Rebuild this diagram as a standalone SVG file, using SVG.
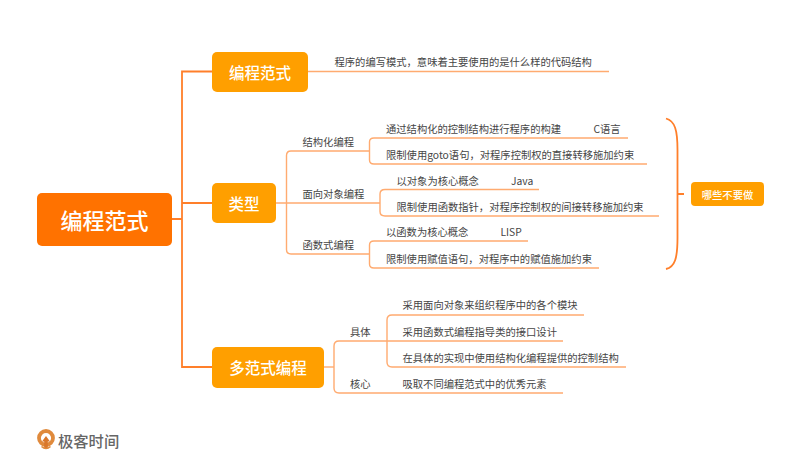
<svg xmlns="http://www.w3.org/2000/svg" width="785" height="465" viewBox="0 0 785 465">
<style>
text{font-family:"Noto Sans CJK SC","Noto Sans",sans-serif}
.t{font-size:10.3px;fill:#454545;dominant-baseline:central}
.w{fill:#fff;text-anchor:middle;dominant-baseline:central;font-weight:500}
.main{fill:none;stroke:#ff7f2a;stroke-width:1.8}
.sub{fill:none;stroke:#ffab70;stroke-width:1.4}
.n{fill:#ff9f00}
</style>
<rect width="785" height="465" fill="#fff"/>
<g id="connectors">
<path class="main" d="M172 219H182M212 71.500H182V367H212M182 203H212"/>
<path class="sub" d="M308 71.500H609"/>
<path class="sub" d="M276 203H380M369 151H291Q286.500 151 286.500 155.500V249.500Q286.500 254 291 254H369"/>
<path class="sub" d="M369.500 151V142Q369.500 138 374 138H628M369.500 151V160Q369.500 164 374 164H647"/>
<path class="sub" d="M539 189.500H385Q380 189.500 380 194V211.500Q380 216 385 216H659"/>
<path class="sub" d="M369.500 254V245Q369.500 241 374 241H528M369.500 254V264Q369.500 268 374 268H599"/>
<path class="sub" d="M324 367H334"/>
<path class="sub" d="M563 341H339Q334 341 334 346V388Q334 393 339 393H563"/>
<path class="sub" d="M584 315H392Q387 315 387 320V362Q387 367 392 367H626"/>
<path d="M666 118.500C675 121 677.500 130 677.500 150V238C677.500 258 675 267 666 269M677.500 194H684" fill="none" stroke="#ff7f2a" stroke-width="1.800"/>
</g>
<g id="root"><rect x="37" y="193" width="135" height="53" rx="5" fill="#ff7200"/><text class="w" x="104.500" y="219" font-size="22">编程范式</text></g>
<g id="n-paradigm"><rect class="n" x="212" y="52" width="96" height="40" rx="5"/><text class="w" x="260" y="72" font-size="15.500">编程范式</text></g>
<g id="n-type"><rect class="n" x="212" y="183" width="64" height="40" rx="5"/><text class="w" x="244" y="203" font-size="15.500">类型</text></g>
<g id="n-multi"><rect class="n" x="212" y="347" width="112" height="41" rx="5"/><text class="w" x="268" y="367" font-size="15.500">多范式编程</text></g>
<g id="n-avoid"><rect class="n" x="691" y="182" width="73" height="24" rx="4"/><text class="w" x="727.500" y="194" font-size="10.300">哪些不要做</text></g>
<g id="l-def"><text class="t" x="334.500" y="61.500">程序的编写模式，意味着主要使用的是什么样的代码结构</text></g>
<g id="l-struct"><text class="t" x="302.500" y="141">结构化编程</text></g>
<g id="l-struct-1"><text class="t" x="386" y="128">通过结构化的控制结构进行程序的构建</text><text class="t" x="593.500" y="128">C语言</text></g>
<g id="l-struct-2"><text class="t" x="386" y="154">限制使用goto语句，对程序控制权的直接转移施加约束</text></g>
<g id="l-oop"><text class="t" x="302.500" y="193">面向对象编程</text></g>
<g id="l-oop-1"><text class="t" x="396.500" y="180">以对象为核心概念</text><text class="t" x="511" y="180">Java</text></g>
<g id="l-oop-2"><text class="t" x="396.500" y="206">限制使用函数指针，对程序控制权的间接转移施加约束</text></g>
<g id="l-func"><text class="t" x="302.500" y="244">函数式编程</text></g>
<g id="l-func-1"><text class="t" x="386" y="231">以函数为核心概念</text><text class="t" x="500.500" y="231">LISP</text></g>
<g id="l-func-2"><text class="t" x="386" y="258">限制使用赋值语句，对程序中的赋值施加约束</text></g>
<g id="l-concrete"><text class="t" x="350" y="331">具体</text></g>
<g id="l-concrete-1"><text class="t" x="402.500" y="304.500">采用面向对象来组织程序中的各个模块</text></g>
<g id="l-concrete-2"><text class="t" x="402.500" y="331">采用函数式编程指导类的接口设计</text></g>
<g id="l-concrete-3"><text class="t" x="402.500" y="357">在具体的实现中使用结构化编程提供的控制结构</text></g>
<g id="l-core"><text class="t" x="350" y="383">核心</text></g>
<g id="l-core-1"><text class="t" x="402.500" y="383">吸取不同编程范式中的优秀元素</text></g>
<g id="logo">
<circle cx="46" cy="438" r="7" fill="none" stroke="#e08a3c" stroke-width="3.800"/>
<path d="M46 436L50 441.500H47.800V448.500H44.200V441.500H42Z" fill="#d9772b"/>
<path d="M41.500 446.500Q46 450.500 50.500 446.500" fill="none" stroke="#e08a3c" stroke-width="1.600"/>
<text x="58" y="440" font-size="15.300" fill="#666" font-weight="500" style="dominant-baseline:central">极客时间</text>
</g>
</svg>
